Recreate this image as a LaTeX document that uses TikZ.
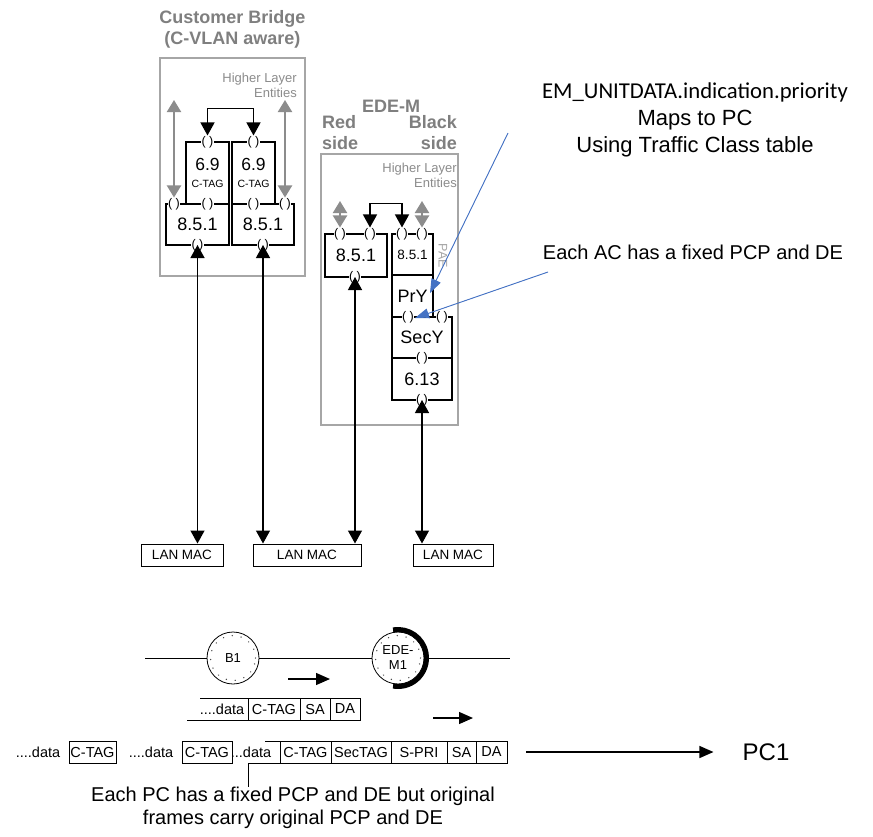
\documentclass[tikz,border=0pt]{standalone}
\usepackage{fontspec}
\setmainfont{Liberation Sans}
\newfontfamily\calfont{Carlito}
\usetikzlibrary{positioning,arrows.meta}
\definecolor{boxgray}{HTML}{A6A6A6}
\definecolor{txtgray}{HTML}{7F7F7F}
\definecolor{arrgray}{HTML}{8C8C8C}
\definecolor{callout}{HTML}{4472C4}
\newcommand{\fsz}[2]{\fontsize{#1}{#2}\selectfont}

\begin{document}
\begin{tikzpicture}[x=1pt, y=-1pt,
  grp/.style={draw=boxgray, line width=2.5pt, inner sep=0pt},
  ttl/.style={text=txtgray, font=\fsz{18}{21}\bfseries, inner sep=0pt},
  hle/.style={text=arrgray, font=\fsz{13}{15}, align=right, inner sep=0pt, anchor=north east},
  blk/.style={draw, line width=1.3pt, inner sep=0pt, outer sep=0pt, font=\fsz{18}{20}},
  port/.style={fill=white, inner sep=0.5pt, font=\fsz{12.5}{12.5}},
  lan/.style={draw, line width=1pt, minimum height=22pt, inner sep=0pt, font=\fsz{13.5}{14}},
  fld/.style={draw, line width=0.9pt, minimum height=22pt, inner sep=0pt, outer sep=0pt, font=\fsz{14.5}{15}},
  dat/.style={inner sep=0pt, font=\fsz{14.5}{15}},
  barr/.style={{Triangle[length=13pt,width=14pt]}-{Triangle[length=13pt,width=14pt]}, line width=1.3pt},
  garr/.style={{Triangle[length=12pt,width=14pt]}-{Triangle[length=12pt,width=14pt]}, line width=2pt, draw=arrgray, fill=arrgray},
  harr/.style={-{Triangle[length=14pt,width=12pt]}, line width=1.3pt},
  note/.style={-{Triangle[length=14pt,width=10pt]}, draw=callout, fill=callout, line width=0.9pt},
  ring/.style={draw, circle, line width=0.8pt, minimum size=52pt, inner sep=0pt, align=center, font=\fsz{13}{15}}]

\fill[white] (0,0) rectangle (873,836);
\useasboundingbox (0,0) rectangle (873,836);

% customer bridge
\node[ttl, align=center] (cbttl) at (232.5,29) {Customer Bridge\\(C-VLAN aware)};
\node[grp, minimum width=145pt, minimum height=218pt] (cb) at (232.5,167) {};
\node[hle] (cbhle) at (297,73) {Higher Layer\\Entities};

\node[blk, minimum width=63pt, minimum height=41pt] (cbLbr) at (197.5,224.5) {8.5.1};
\node[blk, minimum width=62pt, minimum height=41pt] (cbRbr) at (263,224.5) {8.5.1};
\node[blk, minimum width=43pt, minimum height=62pt, align=center, font=\fsz{17.5}{19}] (cbLtag) at (207.5,173) {6.9\\[-2pt]{\fsz{10.5}{12}C-TAG}};
\node[blk, minimum width=43pt, minimum height=62pt, align=center, font=\fsz{17.5}{19}] (cbRtag) at (253.5,173) {6.9\\[-2pt]{\fsz{10.5}{12}C-TAG}};

\node[port] (cbLp1) at (174,204) {( )};
\node[port] (cbLp2) at (207.5,204) {( )};
\node[port] (cbLpb) at (197.5,245) {( )};
\node[port] (cbLpt) at (207.5,142) {( )};
\node[port] (cbRp1) at (253.5,204) {( )};
\node[port] (cbRp2) at (285,204) {( )};
\node[port] (cbRpb) at (263,245) {( )};
\node[port] (cbRpt) at (253.5,142) {( )};

\coordinate (cbLhl) at (174,100);
\coordinate (cbRhl) at (285,100);
\draw[garr] (cbLhl) -- (cbLp1.north);
\draw[garr] (cbRhl) -- (cbRp2.north);
\draw[barr] (cbLpt.north) -- ++(0,-27) -| (cbRpt.north);

% EDE-M
\node[ttl] (edettl) at (391,106) {EDE-M};
\node[ttl, align=left, anchor=west] (red) at (322,132.5) {Red\\side};
\node[ttl, align=right, anchor=east] (black) at (457,132.5) {Black\\side};
\node[grp, minimum width=137pt, minimum height=271pt] (ede) at (389.5,289.5) {};
\node[hle] (edehle) at (457,163) {Higher Layer\\Entities};

\node[blk, minimum width=62pt, minimum height=43pt] (redbr) at (356,255.5) {8.5.1};
\node[blk, minimum width=41pt, minimum height=41pt, font=\fsz{13.5}{14}] (blkbr) at (412.5,254.5) {8.5.1};
\node[blk, minimum width=41pt, minimum height=42pt] (pry) at (412.5,296) {PrY};
\node[blk, minimum width=60pt, minimum height=41pt] (secy) at (422,337.5) {SecY};
\node[blk, minimum width=60pt, minimum height=42pt] (ieee613) at (422,379) {6.13};
\node[text=boxgray, font=\fsz{12.5}{12.5}, rotate=-90, inner sep=0pt] (pae) at (443,256) {PAE};

\node[port] (redp1) at (340,234) {( )};
\node[port] (redp2) at (370,234) {( )};
\node[port] (redpb) at (355,277) {( )};
\node[port] (blkp1) at (402,234) {( )};
\node[port] (blkp2) at (422,234) {( )};
\node[port] (secp1) at (408,317) {( )};
\node[port] (secp2) at (442,317) {( )};
\node[port] (secp3) at (422,358) {( )};
\node[port] (secpb) at (422,400) {( )};

\coordinate (redhl) at (340,201);
\coordinate (blkhl) at (422,201);
\draw[garr] (redhl) -- (redp1.north);
\draw[garr] (blkhl) -- (blkp2.north);
\draw[barr] (redp2.north) -- ++(0,-24) -| (blkp1.north);

% LAN MACs
\node[lan, minimum width=82pt] (lan1) at (182,555) {LAN MAC};
\node[lan, minimum width=108pt] (lan2) at (307,555) {LAN MAC};
\node[lan, minimum width=80pt] (lan3) at (453,555) {LAN MAC};

\draw[barr] (cbLpb.center) -- (cbLpb.center |- lan1.north);
\draw[barr] (cbRpb.center) -- (cbRpb.center |- lan2.north);
\draw[barr] (redpb.center) -- (redpb.center |- lan2.north);
\draw[barr] (secpb.center) -- (secpb.center |- lan3.north);

% network line
\coordinate (netL) at (145,658);
\coordinate (netR) at (510,658);
\node[ring] (b1) at (233,658) {B1};
\node[ring] (ede1) at (398,658) {EDE-\\M1};
\draw[line width=0.8pt] (netL) -- (b1) (b1) -- (ede1) (ede1) -- (netR);
\draw[dash pattern=on 0.01pt off 9pt, line cap=round, line width=1.5pt, black!70] (b1.center) circle (22.5pt) (ede1.center) circle (22.5pt);
\draw[line width=5pt] (ede1.center) ++(100:28.5pt) arc[start angle=100, end angle=-100, radius=28.5pt];

% frame 1
\coordinate (f1s) at (288,679);
\coordinate (f1e) at (330,679);
\draw[harr] (f1s) -- (f1e);
\node[fld, minimum width=52pt] (f1ctag) at (274,709) {C-TAG};
\node[fld, minimum width=30pt, right=0pt of f1ctag] (f1sa) {SA};
\node[fld, minimum width=30pt, right=0pt of f1sa] (f1da) {DA};
\node[dat] (f1data) at (222,709) {....data};
\coordinate (f1top) at (200,698);
\coordinate (f1bot) at (187,720);
\draw[line width=0.9pt] (f1top) -- (f1ctag.north west) (f1bot) -- (f1ctag.south west);

% frame 2
\coordinate (f2s) at (433,718);
\coordinate (f2e) at (473,718);
\draw[harr] (f2s) -- (f2e);
\node[dat] (d1) at (38,752) {....data};
\node[fld, minimum width=47pt] (ctagA) at (92.5,752) {C-TAG};
\node[dat] (d2) at (151,752) {....data};
\node[fld, minimum width=50pt] (ctagB) at (207,752) {C-TAG};
\node[dat] (d3) at (251,752) {...data};
\node[fld, minimum width=51pt] (f2ctag) at (305.5,752) {C-TAG};
\node[fld, minimum width=60pt, right=0pt of f2ctag] (f2sec) {SecTAG};
\node[fld, minimum width=56pt, right=0pt of f2sec] (f2spri) {S-PRI};
\node[fld, minimum width=29pt, right=0pt of f2spri] (f2sa) {SA};
\node[fld, minimum width=31pt, right=0pt of f2sa] (f2da) {DA};
\coordinate (f2top) at (265,741);
\coordinate (f2lead) at (248,763);
\node[font=\fsz{20}{23}, align=center, inner sep=0pt] (cap) at (293,808) {Each PC has a fixed PCP and DE but original\\frames carry original PCP and DE};
\draw[line width=0.9pt] (f2top) -- (f2ctag.north west) (f2ctag.south west) -- (f2lead) -- (f2lead |- cap.north);

\coordinate (pcs) at (526,752);
\node[font=\fsz{24}{26}, inner sep=0pt] (pc1) at (766,752) {PC1};
\draw[harr] (pcs) -- ([xshift=-29pt]pc1.west);

% notes
\node[font=\fsz{22}{27}, align=center, inner sep=0pt] (prio) at (695,120) {{\calfont\fsz{22.7}{27}EM\_UNITDATA.indication.priority}\\Maps to PC\\Using Traffic Class table};
\node[font=\fsz{20}{22}, inner sep=0pt] (acnote) at (693,252) {Each AC has a fixed PCP and DE};
\coordinate (prioS) at (508,133);
\coordinate (prioT) at (430,293);
\coordinate (acS) at (548,272);
\coordinate (acT) at (415,318);
\draw[note] (prioS) -- (prioT);
\draw[note] (acS) -- (acT);
\end{tikzpicture}
\end{document}
